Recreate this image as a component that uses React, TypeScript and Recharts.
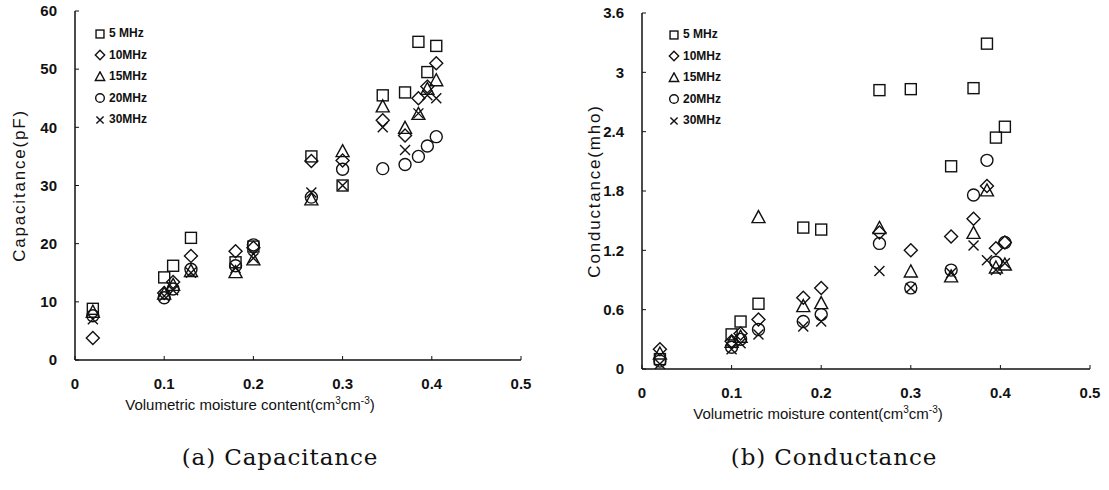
import React from "react";
import { ScatterChart, Scatter, XAxis, YAxis, Label } from "recharts";

// soil moisture of each sample (cm3/cm3)
const moisture = [0.02, 0.1, 0.11, 0.13, 0.18, 0.2, 0.265, 0.3, 0.345, 0.37, 0.385, 0.395, 0.405];

// capacitance (pF) per frequency
const cap5 = [8.8, 14.2, 16.2, 21, 16.8, 19.5, 35, 30, 45.5, 46, 54.7, 49.5, 54];
const cap10 = [3.8, 11.5, 13.4, 17.9, 18.7, 19.3, 34.2, 34.3, 41.2, 38.6, 45, 47, 51];
const cap15 = [8.2, 11.3, 12.8, 15.2, 15, 17.2, 27.5, 35.8, 43.5, 39.8, 42.2, 46.5, 48];
const cap20 = [7.6, 10.7, 12.2, 15.6, 16.2, 19.8, 28, 32.8, 32.9, 33.6, 35, 36.8, 38.4];
const cap30 = [7, 11, 12, 15, 15.8, 17.5, 28.8, 30, 40, 36.1, 42.4, 45.5, 45];

// conductance (mho) per frequency
const con5 = [0.1, 0.35, 0.48, 0.66, 1.43, 1.41, 2.82, 2.83, 2.05, 2.84, 3.29, 2.34, 2.45];
const con10 = [0.2, 0.28, 0.36, 0.5, 0.72, 0.82, 1.38, 1.2, 1.34, 1.52, 1.85, 1.22, 1.28];
const con15 = [0.15, 0.27, 0.32, 1.53, 0.63, 0.66, 1.42, 0.98, 0.93, 1.37, 1.8, 1.02, 1.05];
const con20 = [0.08, 0.22, 0.3, 0.4, 0.48, 0.55, 1.27, 0.82, 1.0, 1.76, 2.11, 1.08, 1.28];
const con30 = [0.05, 0.2, 0.26, 0.35, 0.43, 0.48, 0.99, 0.82, 0.97, 1.25, 1.1, 1.0, 1.07];

const seriesNames = ["5 MHz", "10MHz", "15MHz", "20MHz", "30MHz"];
const markerKinds = ["square", "diamond", "triangle", "circle", "cross"];
const xTicks = [0, 0.1, 0.2, 0.3, 0.4, 0.5];
const capTicks = [0, 10, 20, 30, 40, 50, 60];
const conTicks = [0, 0.6, 1.2, 1.8, 2.4, 3, 3.6];

const toPoints = (ys: number[]) => moisture.map((x, i) => ({ x, y: ys[i] }));

const INK = "#111";
const FONT = "Liberation Sans, Arial, sans-serif";
const tickFont = { fill: INK, fontSize: 15, fontWeight: "bold", fontFamily: FONT };

function Marker({ kind, cx, cy, s = 1 }: { kind: string; cx: number; cy: number; s?: number }) {
  const common = { fill: "none", stroke: INK, strokeWidth: 1.4 };
  if (kind === "square") {
    const h = 5.5 * s;
    return <rect x={cx - h} y={cy - h} width={h * 2} height={h * 2} {...common} />;
  }
  if (kind === "diamond") {
    const h = 6.5 * s;
    return <polygon points={`${cx},${cy - h} ${cx + h},${cy} ${cx},${cy + h} ${cx - h},${cy}`} {...common} />;
  }
  if (kind === "triangle") {
    const h = 6.5 * s;
    return (
      <polygon
        points={`${cx},${cy - h * 1.1} ${cx + h},${cy + h * 0.75} ${cx - h},${cy + h * 0.75}`}
        {...common}
      />
    );
  }
  if (kind === "circle") {
    return <circle cx={cx} cy={cy} r={6 * s} {...common} />;
  }
  const h = 5 * s;
  return (
    <path d={`M${cx - h},${cy - h}L${cx + h},${cy + h}M${cx + h},${cy - h}L${cx - h},${cy + h}`} {...common} />
  );
}

const shapeFor = (kind: string) => (props: any) => <Marker kind={kind} cx={props.cx} cy={props.cy} />;

// legend drawn as an overlay so it takes no room from the plot
function LegendBox({ left, top }: { left: number; top: number }) {
  return (
    <div
      style={{
        position: "absolute",
        left,
        top,
        fontFamily: FONT,
        fontSize: 12,
        fontWeight: "bold",
        color: INK,
        lineHeight: "21.5px",
      }}
    >
      {seriesNames.map((name, i) => (
        <div key={name} style={{ display: "flex", alignItems: "center", height: 21.5 }}>
          <svg width={12} height={12} style={{ marginRight: 3 }}>
            <Marker kind={markerKinds[i]} cx={6} cy={6} s={0.72} />
          </svg>
          <span>{name}</span>
        </div>
      ))}
    </div>
  );
}

function XTitle({ viewBox, shift }: any) {
  const { x, y, width } = viewBox;
  return (
    <text x={x + width / 2 - shift} y={y + 50} textAnchor="middle" fill={INK} fontSize={15} fontFamily={FONT}>
      Volumetric moisture content(cm
      <tspan dy={-6} fontSize={10}>3</tspan>
      <tspan dy={6}>cm</tspan>
      <tspan dy={-6} fontSize={10}>-3</tspan>
      <tspan dy={6}>)</tspan>
    </text>
  );
}

function YTitle({ viewBox, text, cx }: any) {
  const { y, height } = viewBox;
  const cy = y + height / 2;
  return (
    <text
      x={cx}
      y={cy}
      transform={`rotate(-90 ${cx} ${cy})`}
      textAnchor="middle"
      dominantBaseline="central"
      fill={INK}
      fontSize={17}
      letterSpacing={1.8}
      fontFamily={FONT}
    >
      {text}
    </text>
  );
}

type PanelProps = {
  width: number;
  height: number;
  yWidth: number;
  top: number;
  xHeight: number;
  yDomain: [number, number];
  yTicks: number[];
  yTitle: string;
  yTitleX: number;
  series: number[][];
};

function Panel(p: PanelProps) {
  return (
    <ScatterChart width={p.width} height={p.height} margin={{ top: p.top, right: 19, bottom: 0, left: 0 }}>
      <XAxis
        type="number"
        dataKey="x"
        domain={[0, 0.5]}
        ticks={xTicks}
        height={p.xHeight}
        axisLine={{ stroke: INK, strokeWidth: 1.5 }}
        tickLine={{ stroke: INK }}
        tickSize={-4}
        tickMargin={22}
        tick={tickFont}
      >
        <Label content={(props: any) => <XTitle {...props} shift={48} />} />
      </XAxis>
      <YAxis
        type="number"
        dataKey="y"
        domain={p.yDomain}
        ticks={p.yTicks}
        width={p.yWidth}
        axisLine={{ stroke: INK, strokeWidth: 1.5 }}
        tickLine={{ stroke: INK }}
        tickSize={-4}
        tickMargin={22}
        tick={tickFont}
      >
        <Label content={(props: any) => <YTitle {...props} text={p.yTitle} cx={p.yTitleX} />} />
      </YAxis>
      <XAxis
        xAxisId="top"
        orientation="top"
        type="number"
        domain={[0, 0.5]}
        height={0}
        tick={false}
        tickLine={false}
        axisLine={{ stroke: "#555", strokeDasharray: "2 1" }}
      />
      <YAxis
        yAxisId="right"
        orientation="right"
        type="number"
        domain={p.yDomain}
        width={0}
        tick={false}
        tickLine={false}
        axisLine={{ stroke: "#555", strokeDasharray: "2 1" }}
      />
      {p.series.map((ys, i) => (
        <Scatter
          key={seriesNames[i]}
          name={seriesNames[i]}
          data={toPoints(ys)}
          shape={shapeFor(markerKinds[i])}
          isAnimationActive={false}
        />
      ))}
    </ScatterChart>
  );
}

const captionStyle: React.CSSProperties = {
  position: "absolute",
  top: 444,
  fontFamily: "DejaVu Serif, Liberation Serif, serif",
  fontSize: 23,
  letterSpacing: 0.9,
  color: INK,
  textAlign: "center",
  whiteSpace: "nowrap",
};

export default function App() {
  return (
    <div style={{ position: "absolute", left: 0, top: 0, width: 1109, height: 490, background: "#fff" }}>
      <div style={{ position: "absolute", left: 0, top: 0 }}>
        <Panel
          width={540}
          height={430}
          yWidth={75}
          top={11}
          xHeight={70}
          yDomain={[0, 60]}
          yTicks={capTicks}
          yTitle="Capacitance(pF)"
          yTitleX={19}
          series={[cap5, cap10, cap15, cap20, cap30]}
        />
      </div>
      <div style={{ position: "absolute", left: 560, top: 0 }}>
        <Panel
          width={549}
          height={440}
          yWidth={82}
          top={13}
          xHeight={71}
          yDomain={[0, 3.6]}
          yTicks={conTicks}
          yTitle="Conductance(mho)"
          yTitleX={34}
          series={[con5, con10, con15, con20, con30]}
        />
      </div>
      <LegendBox left={94} top={23} />
      <LegendBox left={668} top={24} />
      <div style={{ ...captionStyle, left: 160, width: 240 }}>(a) Capacitance</div>
      <div style={{ ...captionStyle, left: 714, width: 240 }}>(b) Conductance</div>
    </div>
  );
}
